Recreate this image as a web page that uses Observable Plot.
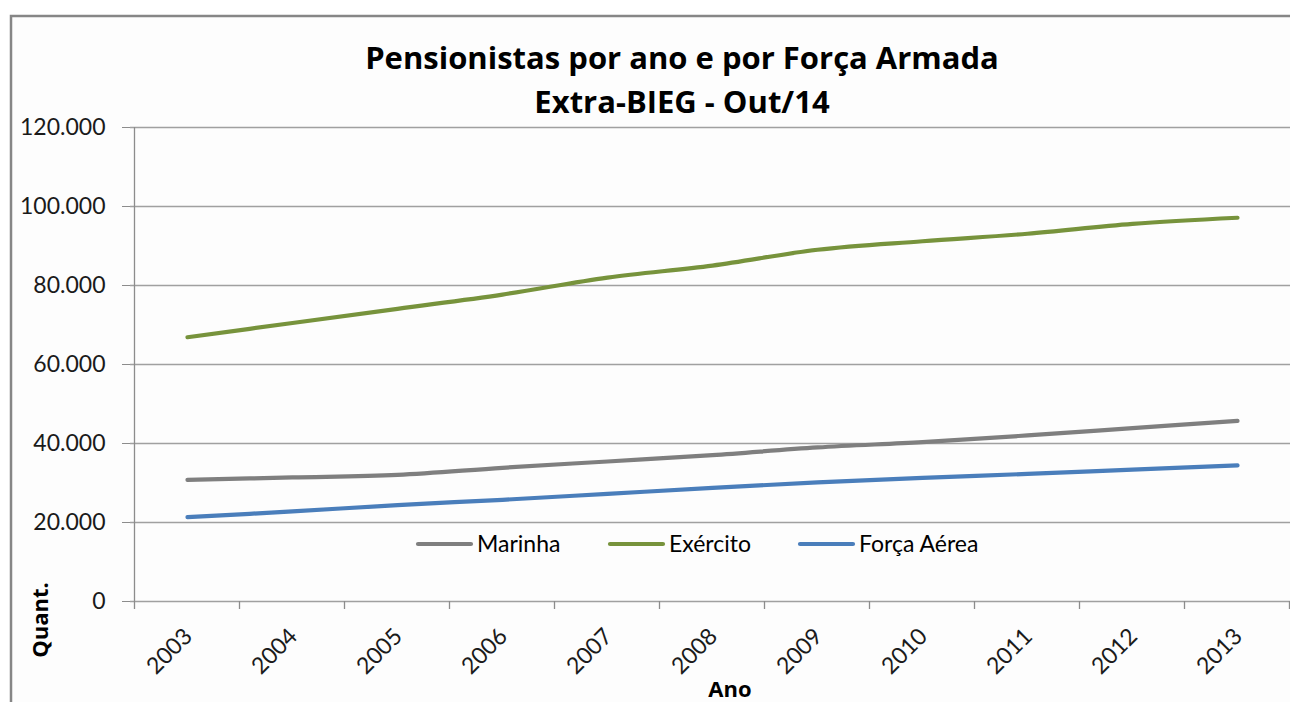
<!DOCTYPE html>
<html>
<head>
<meta charset="utf-8">
<script src="https://cdn.jsdelivr.net/npm/d3@7"></script>
<script src="https://cdn.jsdelivr.net/npm/@observablehq/plot@0.6"></script>
<style>
  html, body { margin: 0; padding: 0; background: #fff; overflow: hidden; }
  #chart svg { display: block; }
</style>
</head>
<body>
<div id="chart"></div>
<script>
// ---- data ----
const anos = ["2003","2004","2005","2006","2007","2008","2009","2010","2011","2012","2013"];
const marinha    = [30800, 31400, 32050, 33850, 35450, 37050, 39000, 40350, 42050, 43900, 45750];
const exercito   = [66900, 70500, 74100, 77700, 82000, 85050, 89050, 91200, 93100, 95600, 97150];
const forcaAerea = [21350, 22800, 24400, 25750, 27250, 28780, 30150, 31300, 32300, 33400, 34450];
const seriesNames = ["Marinha", "Exército", "Força Aérea"];
const seriesColors = ["#7f7f7f", "#77933c", "#4a7ebb"];
const yTicks = [0, 20000, 40000, 60000, 80000, 100000, 120000];
const titulo1 = "Pensionistas por ano e por Força Armada";
const titulo2 = "Extra-BIEG - Out/14";
const yLabel = "Quant.";
const xLabel = "Ano";

const rows = [];
[marinha, exercito, forcaAerea].forEach((vals, s) => {
  vals.forEach((v, i) => rows.push({ano: anos[i], valor: v, serie: seriesNames[s]}));
});

const FONT = "Lato, 'Open Sans', sans-serif";
const TFONT = "'Open Sans', Lato, sans-serif";
const W = 1290, H = 702;
const mL = 130, mR = -3, mT = 127, mB = 101;
const fmt = d => d3.format(",")(d).replace(/,/g, ".");

const chart = Plot.plot({
  width: W, height: H,
  marginLeft: mL, marginRight: mR, marginTop: mT, marginBottom: mB,
  style: {fontFamily: FONT, background: "transparent", overflow: "visible"},
  x: {type: "point", domain: anos, padding: 0.5, axis: null},
  y: {domain: [0, 120000], axis: null},
  color: {domain: seriesNames, range: seriesColors},
  marks: [
    Plot.ruleY(yTicks, {stroke: "#a0a0a0", strokeWidth: 1.3}),
    Plot.axisY({ticks: yTicks, tickFormat: fmt, tickSize: 8, tickPadding: 17, label: null,
      fontSize: 23, stroke: "#8c8c8c", fill: "#1a1a1a"}),
    Plot.line(rows, {x: "ano", y: "valor", z: "serie", stroke: "serie",
      strokeWidth: 4.2, curve: "catmull-rom", strokeLinecap: "round"}),
    Plot.text(anos, {x: d => d, frameAnchor: "bottom", dy: 31, dx: 1, rotate: -45,
      textAnchor: "end", lineAnchor: "middle", fontSize: 23, fill: "#1a1a1a"})
  ]
});

document.getElementById("chart").appendChild(chart);

// ---- extra decorations using the plot's scales ----
const svg = d3.select(chart);
const xs = chart.scale("x");
const ysc = chart.scale("y");
const step = (xs.apply(anos[1]) - xs.apply(anos[0]));
const y0 = ysc.apply(0);
const xLeft = xs.apply(anos[0]) - step / 2;

// left axis line
svg.append("line").attr("x1", xLeft).attr("x2", xLeft)
  .attr("y1", ysc.apply(120000)).attr("y2", y0 + 8)
  .attr("stroke", "#8c8c8c").attr("stroke-width", 1.3);
// category boundary ticks
for (let i = 1; i <= anos.length; i++) {
  const xx = xLeft + i * step;
  svg.append("line").attr("x1", xx).attr("x2", xx).attr("y1", y0).attr("y2", y0 + 8)
    .attr("stroke", "#8c8c8c").attr("stroke-width", 1.3);
}

// outer chart frame
svg.insert("rect", ":first-child").attr("x", 11).attr("y", 16)
  .attr("width", W + 20).attr("height", H + 20)
  .attr("fill", "#fdfdfd").attr("stroke", "#868686").attr("stroke-width", 2.5);

// titles
const cx = 682;
svg.append("text").attr("x", cx).attr("y", 69).attr("text-anchor", "middle")
  .attr("font-family", TFONT).attr("font-weight", "bold").attr("font-size", 31)
  .attr("fill", "#000").text(titulo1);
svg.append("text").attr("x", cx).attr("y", 113).attr("text-anchor", "middle")
  .attr("font-family", TFONT).attr("font-weight", "bold").attr("font-size", 31)
  .attr("fill", "#000").text(titulo2);

// axis titles
svg.append("text").attr("transform", `translate(48,620) rotate(-90)`)
  .attr("text-anchor", "middle").attr("font-family", TFONT).attr("font-weight", "bold")
  .attr("font-size", 22).attr("fill", "#000").text(yLabel);
svg.append("text").attr("x", 730).attr("y", 697).attr("text-anchor", "middle")
  .attr("font-family", TFONT).attr("font-weight", "bold")
  .attr("font-size", 22).attr("fill", "#000").text(xLabel);

// legend
const legY = 544;
const legX = [418, 610, 800];
seriesNames.forEach((name, i) => {
  const g = svg.append("g");
  g.append("line").attr("x1", legX[i]).attr("x2", legX[i] + 53)
    .attr("y1", legY).attr("y2", legY)
    .attr("stroke", seriesColors[i]).attr("stroke-width", 4.2).attr("stroke-linecap", "round");
  g.append("text").attr("x", legX[i] + 59).attr("y", legY).attr("dy", "0.35em")
    .attr("text-anchor", "start")
    .attr("font-family", FONT).attr("font-size", 23).attr("fill", "#000").text(name);
});
</script>
</body>
</html>
